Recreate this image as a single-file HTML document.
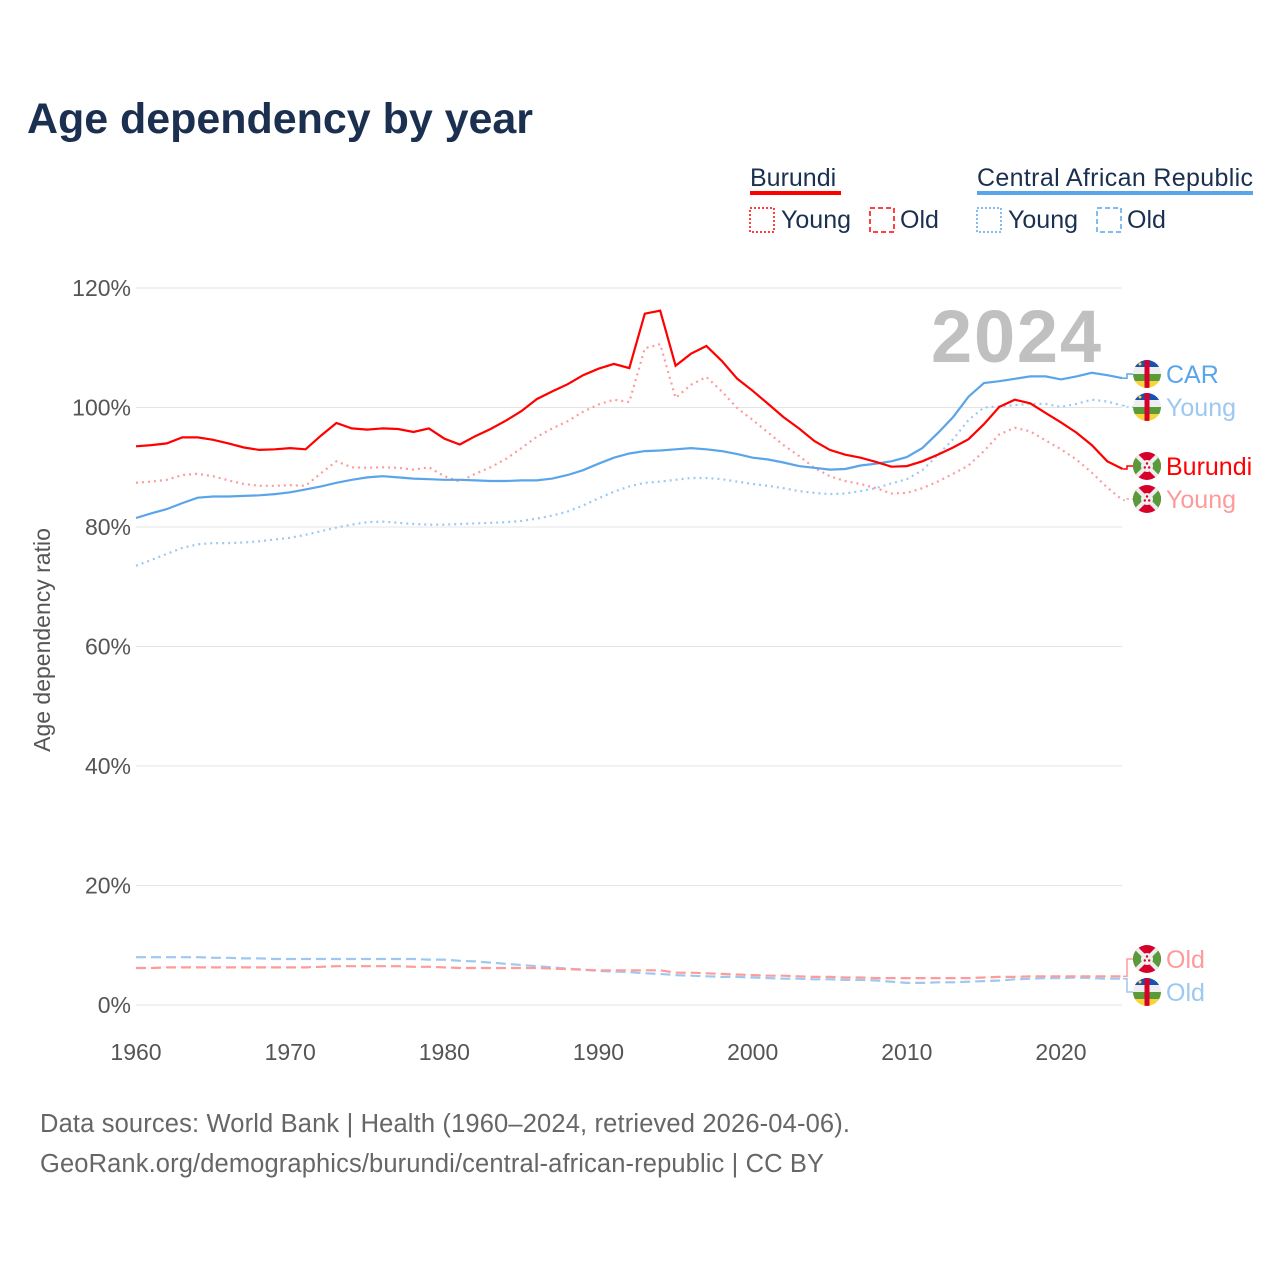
<!DOCTYPE html>
<html><head><meta charset="utf-8"><style>
body{margin:0;background:#fff;font-family:"Liberation Sans",sans-serif}
</style></head><body>
<svg id="chart" width="1280" height="1280" xmlns="http://www.w3.org/2000/svg" font-family="Liberation Sans, sans-serif">
<defs>
<clipPath id="fc"><circle cx="0" cy="0" r="14"/></clipPath>
<g id="flagCAR">
<g clip-path="url(#fc)">
<rect x="-14" y="-14" width="28" height="7" fill="#1b4fb0"/>
<rect x="-14" y="-7" width="28" height="7" fill="#eee"/>
<rect x="-14" y="0" width="28" height="7" fill="#5a9a3a"/>
<rect x="-14" y="7" width="28" height="7" fill="#f8d43a"/>
<rect x="-2.5" y="-14" width="5" height="28" fill="#d6002a"/>
<circle cx="-7" cy="-10" r="1.5" fill="#f8d43a"/>
</g></g>
<g id="flagBDI">
<g clip-path="url(#fc)">
<rect x="-14" y="-14" width="28" height="28" fill="#d6002a"/>
<polygon points="-14,-14 0,0 -14,14" fill="#5a9a3a"/>
<polygon points="14,-14 0,0 14,14" fill="#5a9a3a"/>
<line x1="-14" y1="-14" x2="14" y2="14" stroke="#eee" stroke-width="4"/>
<line x1="14" y1="-14" x2="-14" y2="14" stroke="#eee" stroke-width="4"/>
<circle r="6" fill="#eee"/>
<circle cx="0" cy="-2.5" r="1.2" fill="#d6002a"/><circle cx="-2.2" cy="1.5" r="1.2" fill="#d6002a"/><circle cx="2.2" cy="1.5" r="1.2" fill="#d6002a"/>
</g></g>
</defs>
<text x="27" y="133" font-size="43" font-weight="bold" fill="#1b3050" textLength="506">Age dependency by year</text>
<g font-size="25" fill="#1b3050">
<text x="750" y="186">Burundi</text>
<rect x="750" y="191" width="91" height="4" fill="#f00"/>
<text x="977" y="186" textLength="276">Central African Republic</text>
<rect x="977" y="191" width="276" height="4" fill="#5aa5ea"/>
<rect x="750" y="208" width="24" height="24" fill="none" stroke="#f00" stroke-width="1.5" stroke-dasharray="2,2"/>
<text x="781" y="228">Young</text>
<rect x="870" y="208" width="24" height="24" fill="none" stroke="#f00" stroke-width="1.5" stroke-dasharray="5,3"/>
<text x="900" y="228">Old</text>
<rect x="977" y="208" width="24" height="24" fill="none" stroke="#5aa5ea" stroke-width="1.5" stroke-dasharray="2,2"/>
<text x="1008" y="228">Young</text>
<rect x="1097" y="208" width="24" height="24" fill="none" stroke="#5aa5ea" stroke-width="1.5" stroke-dasharray="5,3"/>
<text x="1127" y="228">Old</text>
</g>
<text x="1101" y="362" text-anchor="end" font-size="74" font-weight="bold" fill="#c0c0c0" textLength="170">2024</text>
<text transform="translate(50,640) rotate(-90)" text-anchor="middle" font-size="23" fill="#555">Age dependency ratio</text>
<g id="grid"></g><g id="series"></g><g id="labels"></g>
<text x="40" y="1132" font-size="25.5" fill="#666" textLength="810">Data sources: World Bank | Health (1960–2024, retrieved 2026-04-06).</text>
<text x="40" y="1172" font-size="25.5" fill="#666" textLength="784">GeoRank.org/demographics/burundi/central-african-republic | CC BY</text>
</svg>
<script>
const years=[];for(let y=1960;y<=2024;y++)years.push(y);
const yTicks=[0,20,40,60,80,100,120];
const xTicks=[1960,1970,1980,1990,2000,2010,2020];
const bdiTotal=[93.5,93.7,94.0,95.0,95.0,94.6,94.0,93.3,92.9,93.0,93.2,93.0,95.3,97.4,96.5,96.3,96.5,96.4,95.9,96.5,94.8,93.8,95.2,96.4,97.8,99.4,101.4,102.7,103.9,105.4,106.5,107.3,106.6,115.7,116.2,107.0,109.0,110.3,107.8,104.8,102.8,100.6,98.4,96.5,94.4,92.9,92.1,91.6,90.9,90.1,90.2,91.0,92.1,93.3,94.7,97.2,100.1,101.3,100.7,99.1,97.5,95.8,93.7,91.0,89.7];
const bdiYoung=[87.4,87.6,87.9,88.7,88.9,88.5,87.8,87.2,86.9,86.9,87.0,86.9,89.0,91.0,90.0,89.9,90.0,89.9,89.6,90.0,88.5,87.6,88.9,90.0,91.4,93.2,95.1,96.5,97.7,99.3,100.5,101.3,100.9,109.9,110.6,101.6,103.8,105.1,102.7,99.9,97.9,95.8,93.7,91.9,89.9,88.5,87.7,87.2,86.5,85.6,85.7,86.5,87.6,88.9,90.3,92.7,95.5,96.6,96.0,94.5,93.0,91.3,89.1,86.6,84.5];
const bdiOld=[6.2,6.2,6.3,6.3,6.3,6.3,6.3,6.3,6.3,6.3,6.3,6.3,6.4,6.5,6.5,6.5,6.5,6.5,6.4,6.4,6.3,6.2,6.2,6.2,6.2,6.2,6.2,6.1,6.0,5.9,5.8,5.8,5.8,5.8,5.8,5.4,5.4,5.3,5.2,5.1,5.0,4.9,4.9,4.8,4.7,4.7,4.6,4.6,4.5,4.5,4.5,4.5,4.5,4.5,4.5,4.6,4.7,4.7,4.8,4.8,4.8,4.8,4.8,4.8,4.8];
const carTotal=[81.5,82.3,83.0,84.0,84.9,85.1,85.1,85.2,85.3,85.5,85.8,86.3,86.8,87.4,87.9,88.3,88.5,88.3,88.1,88.0,87.9,87.9,87.8,87.7,87.7,87.8,87.8,88.1,88.7,89.5,90.6,91.6,92.3,92.7,92.8,93.0,93.2,93.0,92.7,92.2,91.6,91.3,90.8,90.2,89.9,89.6,89.7,90.3,90.6,91.0,91.7,93.2,95.7,98.4,101.8,104.1,104.4,104.8,105.2,105.2,104.7,105.2,105.8,105.4,104.9];
const carYoung=[73.5,74.5,75.5,76.5,77.1,77.3,77.3,77.4,77.6,77.9,78.2,78.7,79.3,79.9,80.4,80.8,80.9,80.7,80.5,80.4,80.4,80.5,80.6,80.7,80.8,81.0,81.4,81.9,82.6,83.6,84.8,85.9,86.8,87.4,87.6,87.9,88.2,88.2,88.0,87.6,87.2,86.9,86.5,86.0,85.7,85.5,85.6,86.0,86.5,87.3,88.0,89.5,92.0,94.7,97.9,100.0,100.2,100.4,100.6,100.6,100.1,100.6,101.3,101.0,100.3];
const carOld=[8.0,8.0,8.0,8.0,8.0,7.9,7.9,7.8,7.8,7.7,7.7,7.7,7.7,7.7,7.7,7.7,7.7,7.7,7.7,7.6,7.6,7.4,7.3,7.1,6.9,6.7,6.5,6.3,6.1,5.9,5.7,5.6,5.5,5.3,5.2,5.0,4.9,4.8,4.7,4.7,4.6,4.5,4.4,4.4,4.3,4.3,4.2,4.2,4.1,3.9,3.7,3.7,3.8,3.8,3.9,4.0,4.1,4.3,4.4,4.5,4.5,4.6,4.5,4.4,4.4];
const NS='http://www.w3.org/2000/svg';
const X=y=>136+(y-1960)*(1061-136)/60;
const Y=v=>1005-v*(1005-288)/120;
function mk(tag,attrs,parent){const e=document.createElementNS(NS,tag);for(const k in attrs)e.setAttribute(k,attrs[k]);parent.appendChild(e);return e;}
const grid=document.getElementById('grid');
yTicks.forEach(t=>{
 const l=mk('line',{x1:136,x2:1122,y1:Y(t),y2:Y(t),stroke:'#e4e4e4','stroke-width':1},grid);
 
 
 const tx=mk('text',{x:131,y:Y(t)+8,'text-anchor':'end','font-size':23,fill:'#555'},grid);tx.textContent=t+'%';
 
 
});
xTicks.forEach(t=>{
 const tx=mk('text',{x:X(t),y:1060,'text-anchor':'middle','font-size':23,fill:'#555'},grid);tx.textContent=t;
 
 
});
const ser=document.getElementById('series');
function line(data,color,dash,name){
 const d=data.map((v,i)=>(i?'L':'M')+X(years[i]).toFixed(1)+','+Y(v).toFixed(1)).join('');
 const p=mk('path',{d:d,fill:'none',stroke:color,'stroke-width':2.2,'stroke-dasharray':dash},ser);
 
 
}
line(carOld,'#9cc8f2','10,5','line-car-old');
line(bdiOld,'#ff9a9a','10,5','line-burundi-old');
line(carYoung,'#9cc8f2','2,4','line-car-young');
line(bdiYoung,'#ff9a9a','2,4','line-burundi-young');
line(carTotal,'#5aa5ea','','line-car-total');
line(bdiTotal,'#f00','','line-burundi-total');
const lab=document.getElementById('labels');
const end=[[carTotal,'#5aa5ea','CAR','flagCAR',374,''],[carYoung,'#9cc8f2','Young','flagCAR',407,'2,3'],[bdiTotal,'#f00','Burundi','flagBDI',466,''],[bdiYoung,'#ff9a9a','Young','flagBDI',499,'2,3'],[bdiOld,'#ff9a9a','Old','flagBDI',959,''],[carOld,'#9cc8f2','Old','flagCAR',992,'']];
end.forEach((e,i)=>{
 const yv=Y(e[0][e[0].length-1]);
 mk('path',{d:`M1123,${yv}L1127,${yv}L1127,${e[4]}L1133,${e[4]}`,fill:'none',stroke:e[1],'stroke-width':1.5,'stroke-dasharray':e[5]},lab);
 mk('use',{href:'#'+e[3],x:1147,y:e[4]},lab);
 const t=mk('text',{x:1166,y:e[4]+9,'font-size':25,fill:e[1]},lab);t.textContent=e[2];
 
 
});
</script>
</body></html>
